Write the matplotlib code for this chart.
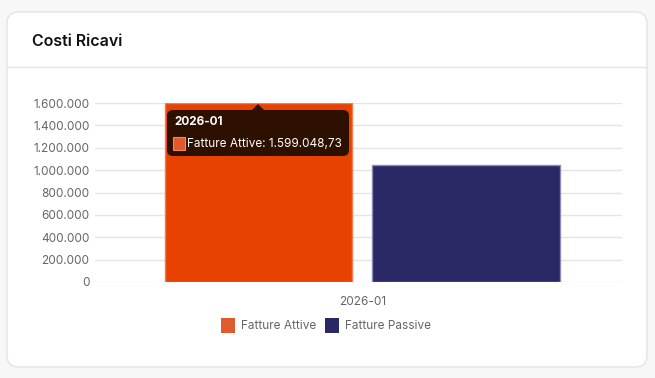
import matplotlib
matplotlib.use("Agg")
import matplotlib.pyplot as plt
from matplotlib.patches import FancyBboxPatch, Rectangle, Polygon
from matplotlib.ticker import FuncFormatter

# ---- data ----
categories = ["2026-01"]
series_names = ["Fatture Attive", "Fatture Passive"]
fatture_attive = [1599048.73]
fatture_passive = [1045000.0]
y_ticks = [0, 200000, 400000, 600000, 800000, 1000000, 1200000, 1400000, 1600000]
title = "Costi Ricavi"

FONT = ["Inter", "DejaVu Sans"]
plt.rcParams["font.family"] = FONT

W, H = 655, 378
fig = plt.figure(figsize=(W / 100, H / 100), dpi=100)
fig.patch.set_facecolor("#f7f7f7")

def fx(px):
    return px / W

def fy(py):
    return 1 - py / H

# card
card = FancyBboxPatch((fx(7), fy(367)), fx(647) - fx(7), fy(12) - fy(367),
                      boxstyle="round,pad=0,rounding_size=0.018",
                      transform=fig.transFigure, facecolor="white",
                      edgecolor="#e4e4e4", linewidth=1.0, zorder=-10,
                      mutation_aspect=W / H)
fig.patches.append(card)
fig.add_artist(plt.Line2D([fx(8), fx(646)], [fy(67), fy(67)], color="#e4e4e4",
                          linewidth=1.0, transform=fig.transFigure, zorder=-5))
fig.text(fx(32), fy(41), title, fontsize=11.5, fontweight="semibold",
         color="#111111", va="center", ha="left")

# axes
left, right, top, bottom = 95, 622, 103, 282
ax = fig.add_axes([fx(left), fy(bottom), fx(right) - fx(left), fy(top) - fy(bottom)])
ax.set_zorder(1)
ax.set_facecolor("none")
ax.set_ylim(0, 1600000)
ax.set_xlim(-0.507, 0.493)

colors = ["#e84200", "#2a2966"]
edges = ["#f27c4e", "#8a8ab2"]
width = 0.355
offsets = [-0.197, 0.197]
for vals, off, c, e in zip([fatture_attive, fatture_passive], offsets, colors, edges):
    xs = [i + off for i in range(len(categories))]
    ax.bar(xs, vals, width=width, color=c, edgecolor=e, linewidth=1.0, zorder=2)

ax.set_yticks(y_ticks)
ax.yaxis.set_major_formatter(FuncFormatter(lambda v, p: f"{int(v):,}".replace(",", ".")))
ax.set_xticks(range(len(categories)))
ax.set_xticklabels(categories)
ax.tick_params(axis="both", length=0, labelsize=8.5, labelcolor="#666666")
ax.tick_params(axis="y", pad=4)
ax.tick_params(axis="x", pad=10)
ax.grid(axis="y", color="#e5e5e5", linewidth=1.0, zorder=0)
ax.set_axisbelow(True)
for s in ax.spines.values():
    s.set_visible(False)

# tooltip
tx0, tx1, ty0, ty1 = 167, 349, 110, 156
tip = FancyBboxPatch((fx(tx0), fy(ty1)), fx(tx1) - fx(tx0), fy(ty0) - fy(ty1),
                     boxstyle="round,pad=0,rounding_size=0.009",
                     transform=fig.transFigure, facecolor="#2e1000",
                     edgecolor="none", zorder=5, mutation_aspect=W / H)
fig.patches.append(tip)
fig.patches.append(Polygon([(fx(252), fy(110)), (fx(258), fy(104)), (fx(264), fy(110))],
                           closed=True, transform=fig.transFigure,
                           facecolor="#2e1000", edgecolor="none", zorder=5))
fig.text(fx(174), fy(122), categories[0], fontsize=8.5, fontweight="bold",
         color="white", va="center", ha="left", zorder=6)
fig.patches.append(Rectangle((fx(173), fy(150)), fx(185) - fx(173), fy(137) - fy(150),
                             transform=fig.transFigure, facecolor="#e05a2b",
                             edgecolor="#f08a60", linewidth=0.8, zorder=6))
val_txt = f"{fatture_attive[0]:,.2f}".replace(",", "X").replace(".", ",").replace("X", ".")
fig.text(fx(187), fy(144), f"{series_names[0]}: {val_txt}", fontsize=8.5,
         color="white", va="center", ha="left", zorder=6)

# legend
leg_colors = ["#e05a2b", "#2a2966"]
leg_x = [221, 325]
for name, c, x in zip(series_names, leg_colors, leg_x):
    fig.patches.append(Rectangle((fx(x), fy(333)), fx(14), fy(318) - fy(333),
                                 transform=fig.transFigure, facecolor=c,
                                 edgecolor="none", zorder=3))
    fig.text(fx(x + 20), fy(326), name, fontsize=8.5, color="#666666",
             va="center", ha="left")

fig.savefig("out.png", dpi=100, facecolor=fig.get_facecolor())
